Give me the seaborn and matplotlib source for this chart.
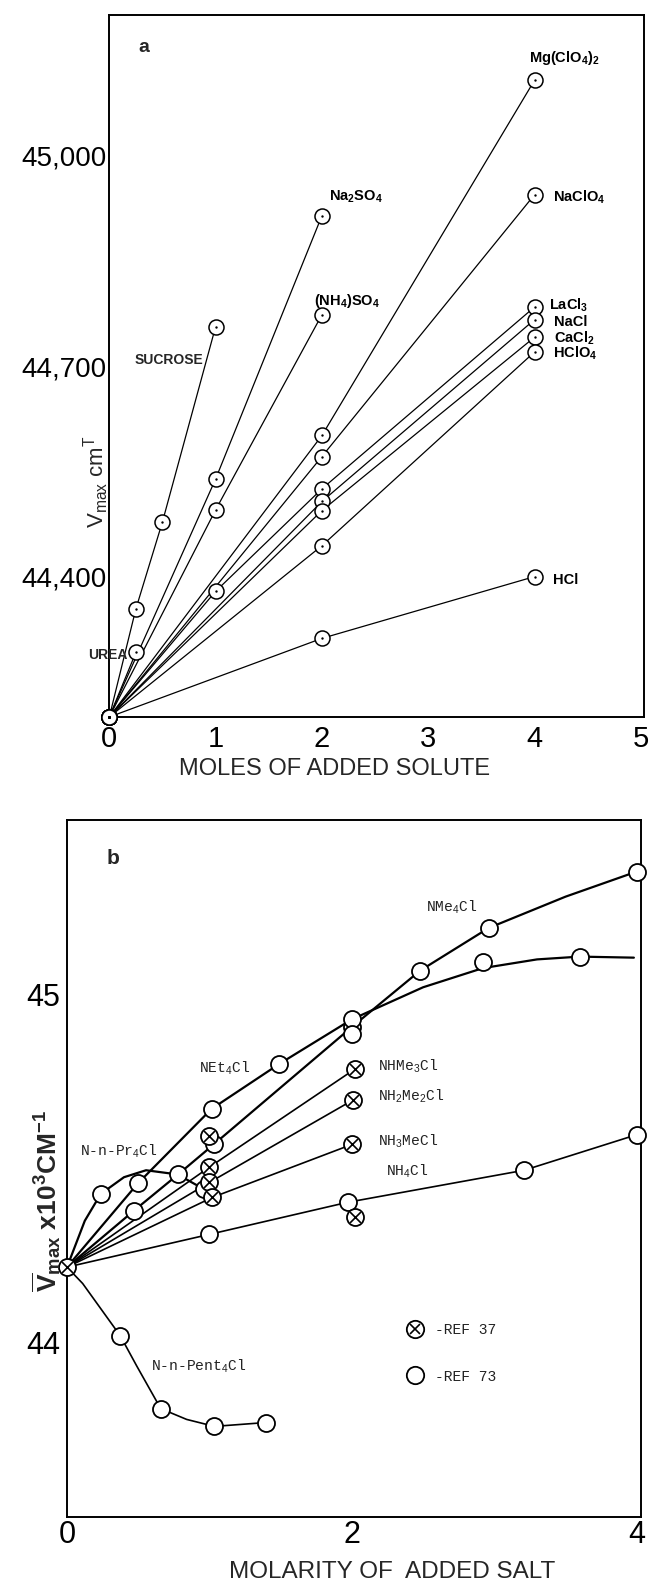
import matplotlib
matplotlib.use("Agg")
import matplotlib.pyplot as plt
from matplotlib.lines import Line2D
from matplotlib.legend_handler import HandlerTuple
import seaborn as sns

sns.set_theme(style="white")
plt.rcParams['font.family'] = ['Liberation Sans', 'DejaVu Sans']
plt.rcParams['mathtext.fontset'] = 'custom'
plt.rcParams['mathtext.rm'] = 'Liberation Sans'
plt.rcParams['mathtext.it'] = 'Liberation Sans:italic'
plt.rcParams['mathtext.bf'] = 'Liberation Sans:bold'

# ---------------- panel a data (moles of added solute, v_max cm^-1) ----------------
sucrose_x = [0, 0.25, 0.5, 1]
sucrose_y = [44200, 44354, 44478, 44756]
urea_x = [0, 0.25]
urea_y = [44200, 44292]
na2so4_x = [0, 1, 2]
na2so4_y = [44200, 44539, 44914]
nh4so4_x = [0, 1, 2]
nh4so4_y = [44200, 44495, 44773]
mgclo4_x = [0, 2, 4]
mgclo4_y = [44200, 44601, 45107]
naclo4_x = [0, 2, 4]
naclo4_y = [44200, 44571, 44944]
lacl3_x = [0, 1, 2, 4]
lacl3_y = [44200, 44379, 44525, 44784]
nacl_x = [0, 2, 4]
nacl_y = [44200, 44507, 44766]
cacl2_x = [0, 2, 4]
cacl2_y = [44200, 44494, 44741]
hclo4_x = [0, 2, 4]
hclo4_y = [44200, 44444, 44720]
hcl_x = [0, 2, 4]
hcl_y = [44200, 44312, 44400]

a_xticks = [0, 1, 2, 3, 4, 5]
a_yticks = [44400, 44700, 45000]
a_yticklabels = ["44,400", "44,700", "45,000"]
a_yminor = [44500, 44600, 44800, 44900, 45100]

# ---------------- panel b data (molarity of added salt, v_max x10^3 cm^-1) ----------------
nme4_line_x = [0, 0.47, 0.78, 1.03, 2.0, 2.48, 2.96, 3.5, 4.0]
nme4_line_y = [44.217, 44.379, 44.483, 44.569, 44.906, 45.068, 45.19, 45.28, 45.352]
net4_line_x = [0, 0.497, 1.015, 1.49, 2.0, 2.5, 2.92, 3.3, 3.6, 3.98]
net4_line_y = [44.217, 44.457, 44.671, 44.80, 44.928, 45.02, 45.075, 45.10, 45.108, 45.105]
pr4_line_x = [0, 0.125, 0.237, 0.4, 0.555, 0.776, 0.96]
pr4_line_y = [44.217, 44.35, 44.427, 44.475, 44.495, 44.483, 44.441]
pent4_line_x = [0, 0.11, 0.374, 0.49, 0.658, 0.84, 1.035, 1.394]
pent4_line_y = [44.217, 44.17, 44.02, 43.933, 43.811, 43.78, 43.76, 43.771]
nhme3_x = [0, 1.0, 2.02]
nhme3_y = [44.217, 44.504, 44.785]
nh2me2_x = [0, 1.0, 2.01]
nh2me2_y = [44.217, 44.460, 44.697]
nh3me_x = [0, 1.02, 2.0]
nh3me_y = [44.217, 44.417, 44.569]
nh4_x = [0, 1.0, 1.97, 3.21, 4.0]
nh4_y = [44.217, 44.311, 44.403, 44.495, 44.597]

# measured points, REF 73 (open circles)
ref73_x = [0.47, 0.78, 1.03, 2.0, 2.48, 2.96, 4.0,
           0.497, 1.015, 1.49, 2.0, 2.92, 3.6,
           0.237, 0.96, 2.0,
           1.0, 1.97, 3.21, 4.0,
           0.374, 0.658, 1.035, 1.394]
ref73_y = [44.379, 44.483, 44.569, 44.906, 45.068, 45.19, 45.352,
           44.457, 44.671, 44.80, 44.928, 45.093, 45.108,
           44.427, 44.441, 44.887,
           44.311, 44.403, 44.495, 44.597,
           44.020, 43.811, 43.760, 43.771]
# measured points, REF 37 (crossed circles)
ref37_x = [0, 1.0, 1.0, 2.02, 1.0, 2.01, 1.02, 2.0, 2.02]
ref37_y = [44.217, 44.593, 44.504, 44.785, 44.460, 44.697, 44.417, 44.569, 44.362]

b_xticks = [0, 1, 2, 3, 4]
b_xticklabels = ["0", "", "2", "", "4"]
b_yticks = [44, 45]
b_yminor = [44.5]

W, H = 649, 1586
fig = plt.figure(figsize=(W / 100, H / 100), dpi=100)
ax_a = fig.add_axes([109.3 / W, 1 - 717 / H, (644 - 109.3) / W, (717 - 15) / H])
ax_b = fig.add_axes([67 / W, 1 - 1517 / H, (641 - 67) / W, (1517 - 820) / H])


def line(ax, x, y, lw):
    sns.lineplot(x=x, y=y, ax=ax, color="black", lw=lw, estimator=None,
                 sort=False, legend=False, zorder=2)


def ring_dot(ax, x, y):
    sns.scatterplot(x=x, y=y, ax=ax, marker="o", s=117, color="white",
                    edgecolor="black", linewidth=1.1, zorder=4,
                    clip_on=False, legend=False)
    sns.scatterplot(x=x, y=y, ax=ax, marker="o", s=3, color="black",
                    edgecolor="black", linewidth=0, zorder=5,
                    clip_on=False, legend=False)


# ---------------- panel a ----------------
a_series = [(sucrose_x, sucrose_y), (urea_x, urea_y), (na2so4_x, na2so4_y),
            (nh4so4_x, nh4so4_y), (mgclo4_x, mgclo4_y), (naclo4_x, naclo4_y),
            (lacl3_x, lacl3_y), (nacl_x, nacl_y), (cacl2_x, cacl2_y),
            (hclo4_x, hclo4_y), (hcl_x, hcl_y)]
for xs, ys in a_series:
    line(ax_a, xs, ys, 0.9)
for xs, ys in a_series:
    ring_dot(ax_a, xs, ys)

ax_a.set_xlim(0, 5.03)
ax_a.set_ylim(44200, 45200)
ax_a.set_xticks(a_xticks)
ax_a.set_xticklabels([str(t) for t in a_xticks])
ax_a.set_yticks(a_yticks)
ax_a.set_yticklabels(a_yticklabels)
ax_a.set_yticks(a_yminor, minor=True)
ax_a.tick_params(axis="x", direction="in", length=5, width=1, pad=6,
                 labelsize=21, colors="black")
ax_a.tick_params(axis="y", which="both", direction="in", length=5, width=1,
                 pad=2, labelsize=20, colors="black")
ax_a.set_xlabel("")
ax_a.set_ylabel("")

lab_a = dict(fontsize=10.5, fontweight="bold", va="center", ha="left", color="black")
ax_a.text(3.95, 45139, r"Mg(ClO$_\mathbf{4}$)$_\mathbf{2}$", **lab_a)
ax_a.text(4.17, 44941, r"NaClO$_\mathbf{4}$", **lab_a)
ax_a.text(2.07, 44941, r"Na$_\mathbf{2}$SO$_\mathbf{4}$", **lab_a)
ax_a.text(1.93, 44792, r"(NH$_\mathbf{4}$)SO$_\mathbf{4}$", **lab_a)
ax_a.text(0.24, 44708, "SUCROSE", fontsize=10, fontweight="bold", va="center", ha="left")
ax_a.text(4.14, 44786, r"LaCl$_\mathbf{3}$", **lab_a)
ax_a.text(4.18, 44762, "NaCl", **lab_a)
ax_a.text(4.18, 44739, r"CaCl$_\mathbf{2}$", **lab_a)
ax_a.text(4.17, 44718, r"HClO$_\mathbf{4}$", **lab_a)
ax_a.text(4.17, 44395, "HCl", **lab_a)
ax_a.text(0.17, 44288, "UREA", fontsize=10, fontweight="bold", va="center", ha="right")
ax_a.text(0.32, 45154, "a", fontsize=14, fontweight="bold", va="center", ha="center")

# ---------------- panel b ----------------
line(ax_b, nme4_line_x, nme4_line_y, 1.6)
line(ax_b, net4_line_x, net4_line_y, 1.6)
line(ax_b, pr4_line_x, pr4_line_y, 1.6)
line(ax_b, pent4_line_x, pent4_line_y, 1.2)
for xs, ys in [(nhme3_x, nhme3_y), (nh2me2_x, nh2me2_y), (nh3me_x, nh3me_y), (nh4_x, nh4_y)]:
    line(ax_b, xs, ys, 1.2)

sns.scatterplot(x=ref73_x, y=ref73_y, ax=ax_b, marker="o", s=150, color="white",
                edgecolor="black", linewidth=1.3, zorder=4, clip_on=False, legend=False)
sns.scatterplot(x=ref37_x, y=ref37_y, ax=ax_b, marker="o", s=150, color="white",
                edgecolor="black", linewidth=1.3, zorder=5, clip_on=False, legend=False)
sns.scatterplot(x=ref37_x, y=ref37_y, ax=ax_b, marker="x", s=60, color="black",
                linewidth=1.2, zorder=6, clip_on=False, legend=False)

ax_b.set_xlim(0, 4.03)
ax_b.set_ylim(43.5, 45.5)
ax_b.set_xticks(b_xticks)
ax_b.set_xticklabels(b_xticklabels)
ax_b.set_yticks(b_yticks)
ax_b.set_yticklabels([str(t) for t in b_yticks])
ax_b.set_yticks(b_yminor, minor=True)
ax_b.tick_params(axis="x", direction="in", length=5, width=1, pad=2,
                 labelsize=22, colors="black")
ax_b.tick_params(axis="y", which="major", direction="out", length=5, width=1,
                 pad=0, labelsize=22, colors="black")
ax_b.tick_params(axis="y", which="minor", direction="in", length=5, width=1)
ax_b.set_xlabel("")
ax_b.set_ylabel("")

lab_b = dict(fontsize=10.5, family=["Liberation Mono", "DejaVu Sans Mono"],
             va="center", ha="left", color="#222222")
ax_b.text(2.52, 45.25, r"NMe$_4$Cl", **lab_b)
ax_b.text(0.93, 44.787, r"NEt$_4$Cl", **lab_b)
ax_b.text(2.18, 44.792, r"NHMe$_3$Cl", **lab_b)
ax_b.text(2.18, 44.707, r"NH$_2$Me$_2$Cl", **lab_b)
ax_b.text(2.18, 44.578, r"NH$_3$MeCl", **lab_b)
ax_b.text(2.24, 44.493, r"NH$_4$Cl", **lab_b)
ax_b.text(0.09, 44.55, r"N-n-Pr$_4$Cl", **lab_b)
ax_b.text(0.59, 43.933, r"N-n-Pent$_4$Cl", **lab_b)
ax_b.text(0.32, 45.39, "b", fontsize=15, fontweight="bold", va="center", ha="center")

h37 = (Line2D([], [], marker="o", ls="", mfc="white", mec="black", ms=12.5, mew=1.3),
       Line2D([], [], marker="x", ls="", color="black", ms=7.5, mew=1.2))
h73 = Line2D([], [], marker="o", ls="", mfc="white", mec="black", ms=12.5, mew=1.3)
leg = ax_b.legend([h37, h73], ["-REF 37", "-REF 73"],
                  handler_map={tuple: HandlerTuple(ndivide=1, pad=0)},
                  loc="center left", bbox_to_anchor=(0.5906, 0.2346),
                  frameon=False, handlelength=1.2, handletextpad=0.8,
                  labelspacing=2.2, borderpad=0, borderaxespad=0,
                  prop={"family": "Liberation Mono", "size": 10.5})
for t in leg.get_texts():
    t.set_color("#222222")

for ax in (ax_a, ax_b):
    ax.grid(False)
    for sp in ax.spines.values():
        sp.set_visible(True)
        sp.set_color("black")
        sp.set_linewidth(1.4)

# axis titles
fig.text(96 / W, 1 - 482 / H, r"V$_{\mathrm{max}}$ cm$^{\mathrm{T}}$", rotation=90,
         fontsize=16, ha="center", va="center")
fig.text(334.5 / W, 1 - 769 / H, "MOLES OF ADDED SOLUTE", fontsize=17,
         ha="center", va="center")
fig.text(47 / W, 1 - 1201 / H,
         r"$\overline{\mathbf{V}}_{\mathbf{max}}$ x10$^{\mathbf{3}}$CM$^{\mathbf{-1}}$",
         rotation=90, fontsize=19, fontweight="bold", ha="center", va="center")
fig.text(392 / W, 1 - 1572 / H, "MOLARITY OF  ADDED SALT", fontsize=17.5,
         ha="center", va="center")

fig.savefig("out.png", dpi=100)
